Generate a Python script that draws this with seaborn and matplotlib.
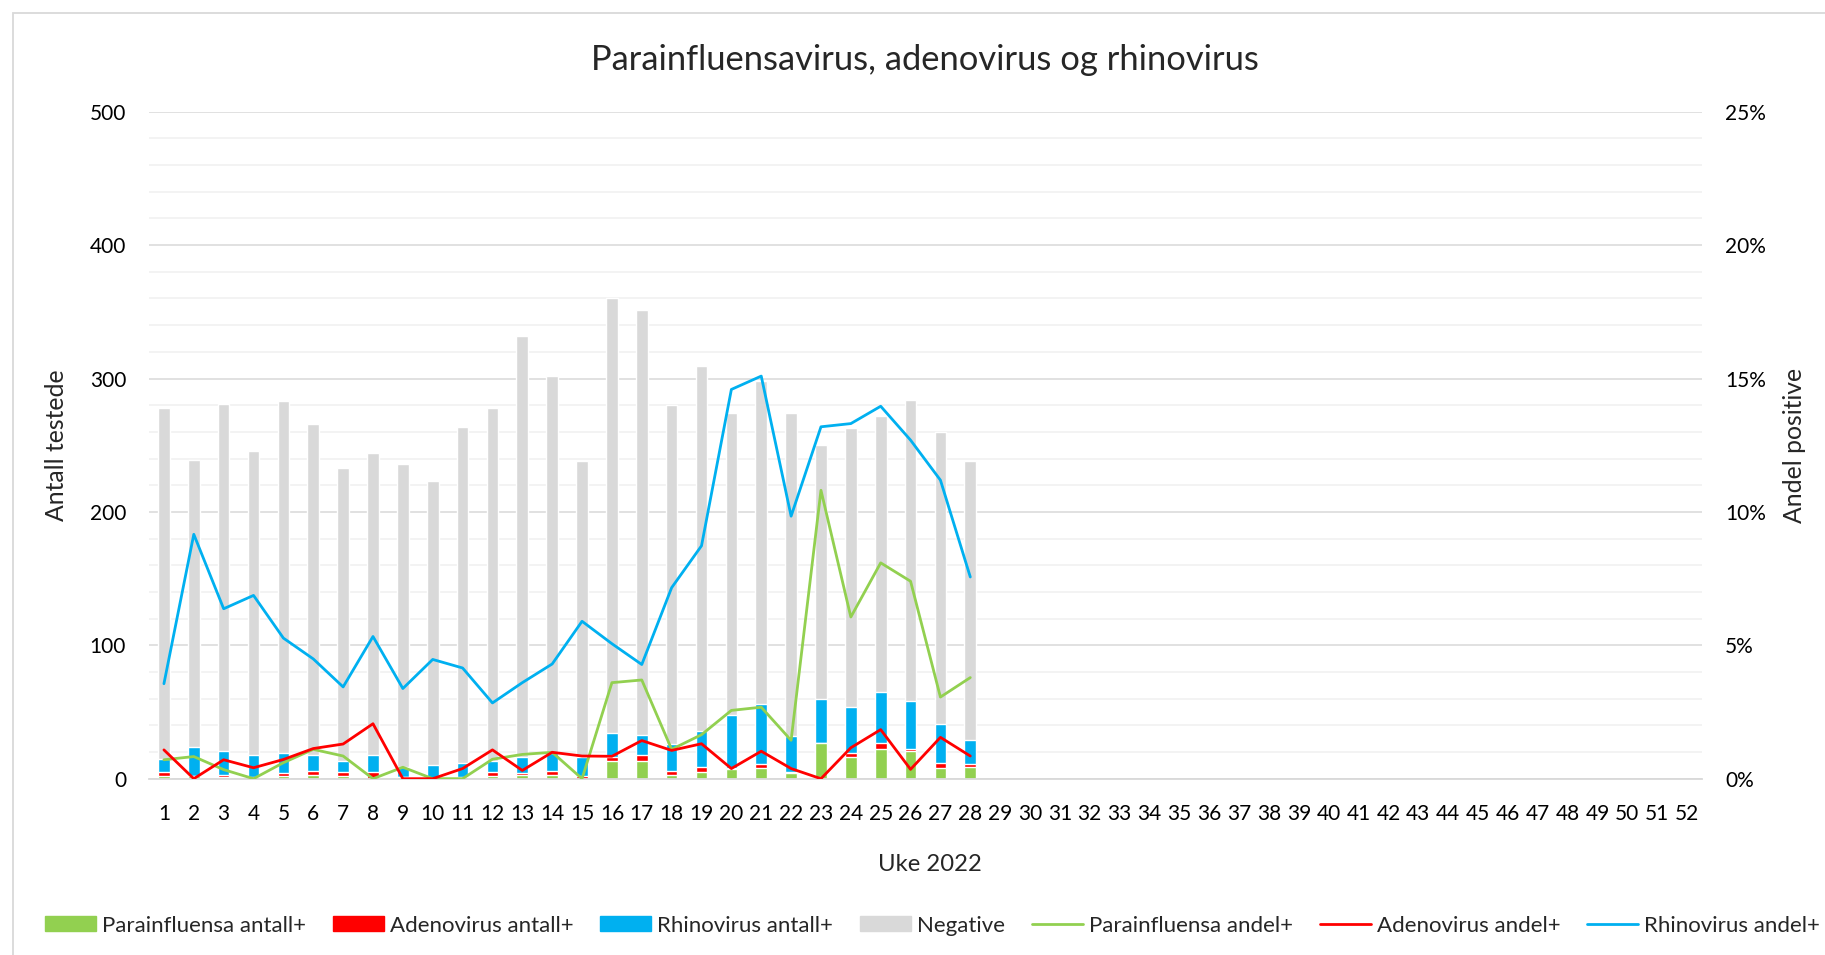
import numpy as np
import pandas as pd
import seaborn as sns
import matplotlib.pyplot as plt
from matplotlib.patches import Patch, Rectangle
from matplotlib.lines import Line2D
from matplotlib.ticker import MultipleLocator, FuncFormatter

# Weekly data, Uke 2022 (weeks 1-28 reported)
weeks = list(range(1, 29))
all_weeks = list(range(1, 53))
para_n = [2, 2, 1, 0, 2, 3, 2, 0, 1, 0, 0, 2, 3, 3, 0, 13, 13, 3, 5, 7, 8, 4, 27, 16, 22, 21, 8, 9]
adeno_n = [3, 0, 2, 1, 2, 3, 3, 5, 0, 0, 1, 3, 1, 3, 2, 3, 5, 3, 4, 1, 3, 1, 0, 3, 5, 1, 4, 2]
rhino_n = [10, 22, 18, 17, 15, 12, 8, 13, 8, 10, 11, 8, 12, 13, 14, 18, 15, 20, 27, 40, 45, 27, 33, 35, 38, 36, 29, 18]
negative = [263, 215, 260, 228, 264, 248, 220, 226, 227, 213, 252, 265, 316, 283,
            222, 326, 318, 254, 273, 226, 242, 242, 190, 209, 207, 226, 219, 209]

para_pct = [0.71, 0.83, 0.34, 0.0, 0.6, 1.1, 0.85, 0.0, 0.43, 0.0, 0.0, 0.73, 0.91, 0.99,
            0.0, 3.6, 3.7, 1.1, 1.65, 2.56, 2.68, 1.44, 10.81, 6.06, 8.09, 7.4, 3.06, 3.79]
adeno_pct = [1.08, 0.0, 0.71, 0.41, 0.72, 1.13, 1.3, 2.06, 0.0, 0.0, 0.38, 1.08, 0.31, 0.99,
             0.85, 0.84, 1.43, 1.06, 1.31, 0.38, 1.03, 0.38, 0.0, 1.16, 1.84, 0.35, 1.55, 0.85]
rhino_pct = [3.56, 9.16, 6.37, 6.87, 5.27, 4.49, 3.44, 5.33, 3.38, 4.47, 4.15, 2.84, 3.6, 4.3,
             5.9, 5.06, 4.28, 7.16, 8.73, 14.59, 15.09, 9.84, 13.19, 13.31, 13.96, 12.69, 11.19, 7.56]

GREEN, RED, BLUE, GREY = '#92D050', '#FF0000', '#00B0F0', '#D9D9D9'
LW = 2.0

sns.set_theme(style='white')
plt.rcParams['font.family'] = ['Lato', 'DejaVu Sans']

df = pd.DataFrame({'uke': weeks, 'para': para_n, 'adeno': adeno_n,
                   'rhino': rhino_n, 'neg': negative})
df['c_para'] = df['para']
df['c_adeno'] = df['c_para'] + df['adeno']
df['c_rhino'] = df['c_adeno'] + df['rhino']
df['c_total'] = df['c_rhino'] + df['neg']

fig = plt.figure(figsize=(18.25, 9.55), dpi=100)
ax = fig.add_axes([149 / 1825, 1 - 778.7 / 955, (1702 - 149) / 1825, (778.7 - 111.7) / 955])

# stacked bars drawn as cumulative layers, biggest first
for col, c in [('c_total', GREY), ('c_rhino', BLUE), ('c_adeno', RED), ('c_para', GREEN)]:
    sns.barplot(data=df, x='uke', y=col, native_scale=True, color=c, saturation=1,
                width=0.39, errorbar=None, ax=ax, zorder=2)

ax.set_xlim(0.5, 52.5)
ax.set_ylim(0, 500)
ax.set_xticks(all_weeks)
ax.set_xticklabels([str(w) for w in all_weeks])
ax.yaxis.set_major_locator(MultipleLocator(100))
ax.yaxis.set_minor_locator(MultipleLocator(20))
ax.grid(axis='y', which='major', color='#D9D9D9', lw=1.1, zorder=0)
ax.grid(axis='y', which='minor', color='#F0F0F0', lw=1.1, zorder=0)
ax.set_axisbelow(True)
for s in ['top', 'left', 'right']:
    ax.spines[s].set_visible(False)
ax.spines['bottom'].set_color('#D9D9D9')
ax.spines['bottom'].set_linewidth(1.3)
ax.tick_params(axis='both', which='both', length=0, labelsize=15, colors='black')
ax.tick_params(axis='y', pad=16.5)
ax.tick_params(axis='x', pad=18.5)
ax.set_xlabel('')
ax.set_ylabel('')

ax2 = ax.twinx()
lines = pd.DataFrame({'uke': weeks, 'para': para_pct, 'adeno': adeno_pct, 'rhino': rhino_pct})
for col, c in [('para', GREEN), ('adeno', RED), ('rhino', BLUE)]:
    sns.lineplot(data=lines, x='uke', y=col, color=c, lw=LW, ax=ax2)
ax2.set_ylim(0, 25)
ax2.yaxis.set_major_locator(MultipleLocator(5))
ax2.yaxis.set_major_formatter(FuncFormatter(lambda v, p: f'{v:.0f}%'))
for s in ax2.spines.values():
    s.set_visible(False)
ax2.tick_params(axis='y', length=0, labelsize=15, colors='black', pad=16.5)
ax2.set_ylabel('')
ax2.set_xlabel('')
ax2.set_xlim(0.5, 52.5)

fig.text(0.507, 1 - 60 / 955, 'Parainfluensavirus, adenovirus og rhinovirus',
         ha='center', va='center', fontsize=24.8)
fig.text(57 / 1825, 1 - 445 / 955, 'Antall testede', rotation=90,
         ha='center', va='center', fontsize=17.8)
fig.text(1794 / 1825, 1 - 445 / 955, 'Andel positive', rotation=90,
         ha='center', va='center', fontsize=17.8)
fig.text(930 / 1825, 1 - 864.5 / 955, 'Uke 2022', ha='center', va='center', fontsize=17.2)

handles = [Patch(color=GREEN), Patch(color=RED), Patch(color=BLUE), Patch(color=GREY),
           Line2D([], [], color=GREEN, lw=LW), Line2D([], [], color=RED, lw=LW),
           Line2D([], [], color=BLUE, lw=LW)]
labels = ['Parainfluensa antall+', 'Adenovirus antall+', 'Rhinovirus antall+', 'Negative',
          'Parainfluensa andel+', 'Adenovirus andel+', 'Rhinovirus andel+']
fig.legend(handles, labels, loc='center', bbox_to_anchor=(0.511, 1 - 925.5 / 955), ncol=7,
           frameon=False, fontsize=16, handlelength=2.3, handleheight=0.65,
           handletextpad=0.27, columnspacing=1.2)

# light outer chart border
fig.patches.append(Rectangle((13 / 1825, -0.05), 1.2, 1 - 13 / 955 + 0.05,
                             transform=fig.transFigure, fill=False,
                             edgecolor='#D9D9D9', lw=1.3))

fig.savefig('out.png', dpi=100)
